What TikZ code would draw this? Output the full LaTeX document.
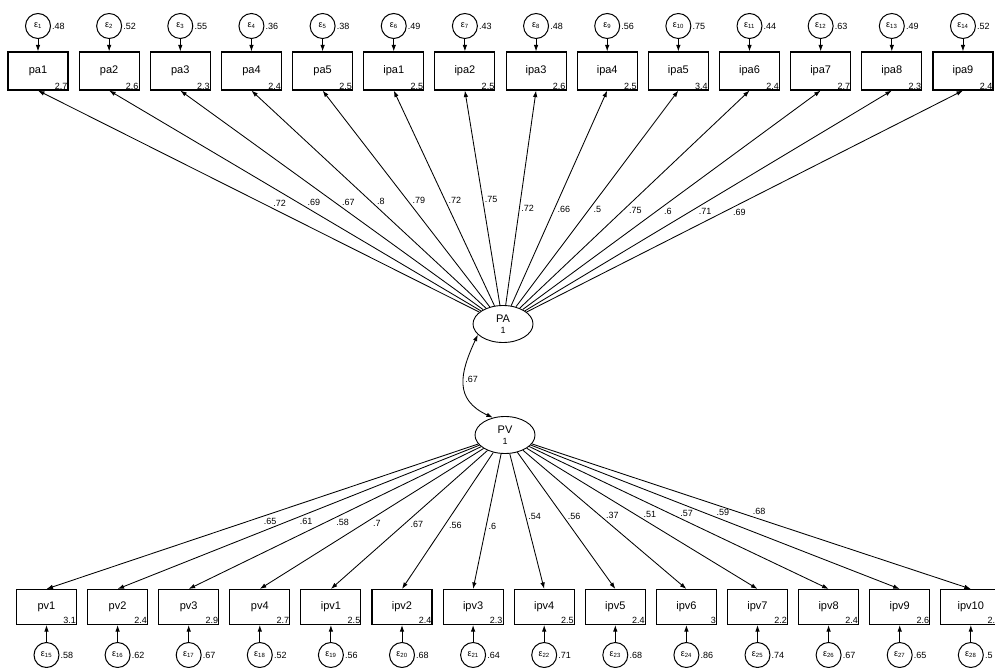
\documentclass[tikz,border=0pt]{standalone}
\usepackage{fontspec}
\setmainfont{Liberation Sans}
\usetikzlibrary{positioning}
\usetikzlibrary{arrows.meta}
\usetikzlibrary{shapes.geometric}

\begin{document}
\begin{tikzpicture}[x=1pt, y=-1pt,
    >={Latex[length=6.5pt,width=4.5pt]},
    obs/.style={draw, line width=1.1pt, minimum width=60pt, minimum height=38pt, inner sep=0pt, font=\fontsize{11}{13}\selectfont},
    obsb/.style={obs, minimum height=35pt},
    lat/.style={draw, ellipse, line width=0.9pt, minimum width=60pt, minimum height=37pt, inner sep=0pt, align=center, font=\fontsize{11}{11}\selectfont},
    err/.style={draw, circle, line width=1pt, minimum size=25pt, inner sep=0pt, font=\fontsize{9}{9}\selectfont},
    load/.style={->, line width=0.85pt},
    coef/.style={font=\fontsize{9}{9}\selectfont, inner sep=1pt}]

    \useasboundingbox (0,0) rectangle (995,668);

    \node [lat] (PA) at (503,324) {PA\\[0pt]{\fontsize{9}{9}\selectfont 1}};
    \node [lat] (PV) at (505,435) {PV\\[0pt]{\fontsize{9}{9}\selectfont 1}};

    % top indicators
    \foreach \v/\m/\e/\l [count=\i] in {pa1/2.7/.48/.72, pa2/2.6/.52/.69, pa3/2.3/.55/.67, pa4/2.4/.36/.8,
        pa5/2.5/.38/.79, ipa1/2.5/.49/.72, ipa2/2.5/.43/.75, ipa3/2.6/.48/.72, ipa4/2.5/.56/.66,
        ipa5/3.4/.75/.5, ipa6/2.4/.44/.75, ipa7/2.7/.63/.6, ipa8/2.3/.49/.71, ipa9/2.4/.52/.69} {
      \node [obs] (\v) at ({38+71.15*(\i-1)},71) {\v};
      \node [coef, anchor=south east] (m\i) at (\v.south east) {\m};
      \node [err] (e\i) at ({38+71.15*(\i-1)},26) {ε\textsubscript{\i}};
      \node [coef, anchor=west] (v\i) at (e\i.east) {\e};
      \draw [load] (e\i) -- (\v);
      \draw [load] (PA) -- (\v.south) node [coef, pos=.47, auto=right] (c\i) {\l};
    }

    % bottom indicators
    \foreach \v/\m/\e/\l [count=\i from 15] in {pv1/3.1/.58/.65, pv2/2.4/.62/.61, pv3/2.9/.67/.58, pv4/2.7/.52/.7,
        ipv1/2.5/.56/.67, ipv2/2.4/.68/.56, ipv3/2.3/.64/.6, ipv4/2.5/.71/.54, ipv5/2.4/.68/.56,
        ipv6/3/.86/.37, ipv7/2.2/.74/.51, ipv8/2.4/.67/.57, ipv9/2.6/.65/.59, ipv10/2.2/.5/.68} {
      \node [obsb] (\v) at ({46.5+71.1*(\i-15)},607) {\v};
      \node [coef, anchor=south east] (m\i) at (\v.south east) {\m};
      \node [err] (e\i) at ({46.5+71.1*(\i-15)},655) {ε\textsubscript{\i}};
      \node [coef, anchor=west] (v\i) at (e\i.east) {\e};
      \draw [load] (e\i) -- (\v);
      \draw [load] (PV) -- (\v.north) node [coef, pos=.5, auto=left] (c\i) {\l};
    }

    % covariance
    \draw [<->, line width=0.85pt] (PA.203) to [out=245, in=155, looseness=1.3] node [coef, pos=.45, anchor=west] (cov) {.67} (PV.125);
\end{tikzpicture}
\end{document}
